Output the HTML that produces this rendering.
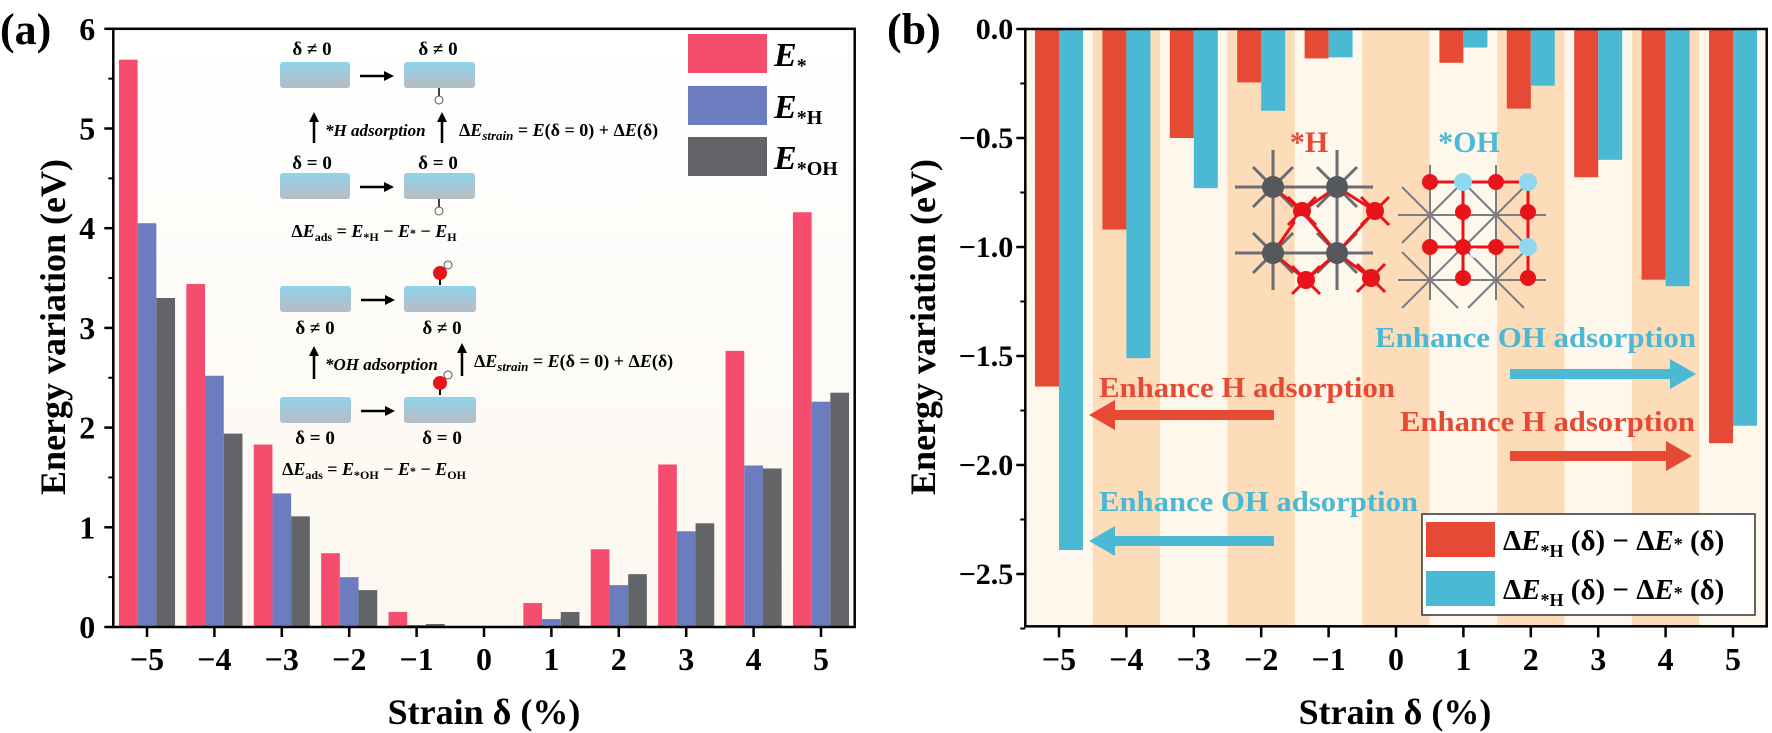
<!DOCTYPE html>
<html><head><meta charset="utf-8"><style>
html,body{margin:0;padding:0;background:#fff;}
svg, svg text{font-family:"Liberation Serif","DejaVu Serif",serif;}
svg{display:block;}
</style></head><body>
<svg width="1772" height="733" viewBox="0 0 1772 733" xmlns="http://www.w3.org/2000/svg" font-family="Liberation Serif, DejaVu Serif, serif">
<defs>
<linearGradient id="bgA" x1="0" y1="0" x2="0" y2="1"><stop offset="0" stop-color="#ffffff"/><stop offset="1" stop-color="#fcf8f0"/></linearGradient>
<linearGradient id="slab" x1="0" y1="0" x2="0" y2="1"><stop offset="0" stop-color="#8fd3ec"/><stop offset="1" stop-color="#b8bcc2"/></linearGradient>
</defs>
<g id="panelA"></g>
<g id="panelB"></g>
</svg>
<script>
// ---------- Panel (a) data ----------
const catsA = [-5,-4,-3,-2,-1,0,1,2,3,4,5];
const eStar = [5.69,3.44,1.83,0.74,0.15,0,0.24,0.78,1.63,2.77,4.16];
const eH    = [4.05,2.52,1.34,0.50,0.02,0,0.08,0.42,0.96,1.62,2.26];
const eOH   = [3.30,1.94,1.11,0.37,0.03,0,0.15,0.53,1.04,1.59,2.35];
const yTicksA = [0,1,2,3,4,5,6];
// ---------- Panel (b) data ----------
const catsB = [-5,-4,-3,-2,-1,0,1,2,3,4,5];
const dH  = [-1.64,-0.92,-0.50,-0.245,-0.135,0,-0.155,-0.365,-0.68,-1.15,-1.90];
const dOH = [-2.39,-1.51,-0.73,-0.375,-0.13,0,-0.085,-0.26,-0.60,-1.18,-1.82];
const yTicksB = [0,-0.5,-1.0,-1.5,-2.0,-2.5];
const yTickLabelsB = ["0.0","\u22120.5","\u22121.0","\u22121.5","\u22122.0","\u22122.5"];

const NS="http://www.w3.org/2000/svg";
function mk(parent,tag,attrs,text){const e=document.createElementNS(NS,tag);for(const k in attrs)e.setAttribute(k,attrs[k]);if(tag==='text')e.setAttribute('font-family','Liberation Serif, DejaVu Serif, serif');if(text!==undefined)e.textContent=text;parent.appendChild(e);return e;}
function lbl(v){return v<0?"\u2212"+Math.abs(v):String(v);}

// ===== Panel A =====
const A=document.getElementById('panelA');
const ax=v=>484+v*67.4, ay=v=>627-v*99.7;
const L=ax(-5.5), R=ax(5.5), T=ay(6), B=ay(0);
let r=mk(A,'rect',{x:L,y:T,width:R-L,height:B-T,fill:'url(#bgA)'});

const bw=18.7;
const seriesA=[[eStar,'#f64c6e','bar-e-star'],[eH,'#6b7dbf','bar-e-h'],[eOH,'#636467','bar-e-oh']];
catsA.forEach((c,i)=>{seriesA.forEach((s,j)=>{const v=s[0][i];if(v<=0)return;
 const b=mk(A,'rect',{x:ax(c)-1.5*bw+j*bw,y:ay(v),width:bw,height:B-ay(v),fill:s[1]});
 
 });});
mk(A,'rect',{x:L,y:T,width:R-L,height:B-T,fill:'none',stroke:'#000','stroke-width':2.5});
yTicksA.forEach(v=>{mk(A,'line',{x1:L-9,x2:L,y1:ay(v),y2:ay(v),stroke:'#000','stroke-width':2.5});
 const t=mk(A,'text',{x:L-18,y:ay(v)+11,'text-anchor':'end','font-size':32,'font-weight':'bold'},String(v));
 
 mk(A,'line',{x1:L-5,x2:L,y1:ay(v+0.5),y2:ay(v+0.5),stroke:'#000','stroke-width':2});});
catsA.forEach(c=>{mk(A,'line',{x1:ax(c),x2:ax(c),y1:B,y2:B+10,stroke:'#000','stroke-width':2.5});
 const t=mk(A,'text',{x:ax(c),y:670,'text-anchor':'middle','font-size':32,'font-weight':'bold'},lbl(c));
 });
let t=mk(A,'text',{x:484,y:724,'text-anchor':'middle','font-size':36,'font-weight':'bold'},'Strain \u03b4 (%)');

t=mk(A,'text',{x:0,y:0,'text-anchor':'middle','font-size':36,'font-weight':'bold',transform:'translate(65,327) rotate(-90)'},'Energy variation (eV)');

t=mk(A,'text',{x:0,y:44,'font-size':44,'font-weight':'bold'},'(a)');

const lg=mk(A,'g',{});
[['#f64c6e',34,''],['#6b7dbf',86,'H'],['#636467',137,'OH']].forEach(d=>{
 mk(lg,'rect',{x:688,y:d[1],width:79,height:39,fill:d[0]});
 const tx=mk(lg,'text',{x:774,y:d[1]+32,'font-size':34,'font-weight':'bold'});
 mk(tx,'tspan',{'font-style':'italic'},'E');
 mk(tx,'tspan',{'font-size':20,dy:6},'*'+d[2]);
 });
const sc=mk(A,'g',{'font-weight':'bold','font-size':19});

function slab(x,y,w){mk(sc,'rect',{x:x,y:y,width:w,height:26,rx:3,fill:'url(#slab)'});}
function harrow(x1,x2,y){mk(sc,'line',{x1:x1,x2:x2-8,y1:y,y2:y,stroke:'#000','stroke-width':2.5});mk(sc,'polygon',{points:`${x2},${y} ${x2-10},${y-5} ${x2-10},${y+5}`,fill:'#000'});}
function varrow(x,y1,y2){mk(sc,'line',{x1:x,x2:x,y1:y1,y2:y2+8,stroke:'#000','stroke-width':2.5});mk(sc,'polygon',{points:`${x},${y2} ${x-5},${y2+10} ${x+5},${y2+10}`,fill:'#000'});}
function hatom(x,y){mk(sc,'circle',{cx:x,cy:y,r:4,fill:'#fff',stroke:'#555','stroke-width':1});}
function oh(x,y){mk(sc,'line',{x1:x,x2:x,y1:y,y2:y+12,stroke:'#000','stroke-width':2});mk(sc,'circle',{cx:x,cy:y,r:7,fill:'#e8141a'});hatom(x+8,y-8);}
mk(sc,'text',{x:312,y:55,'text-anchor':'middle','font-size':19,'font-weight':'bold'},'\u03b4 \u2260 0');mk(sc,'text',{x:438,y:55,'text-anchor':'middle','font-size':19,'font-weight':'bold'},'\u03b4 \u2260 0');
slab(280,62,70);slab(404,62,71);harrow(360,394,76);
mk(sc,'line',{x1:439,x2:439,y1:88,y2:96,stroke:'#000','stroke-width':1.5});hatom(439,100);
varrow(314,143,112);varrow(442,143,112);
mk(sc,'text',{x:325,y:136,'font-style':'italic','font-size':17,'font-weight':'bold'},'*H adsorption');
let te=mk(sc,'text',{x:459,y:136,'font-size':18,'font-weight':'bold'});mk(te,'tspan',{},'\u0394');mk(te,'tspan',{'font-style':'italic'},'E');mk(te,'tspan',{'font-style':'italic','font-size':13,dy:4},'strain');mk(te,'tspan',{dy:-4},' = ');mk(te,'tspan',{'font-style':'italic'},'E');mk(te,'tspan',{},'(\u03b4 = 0) + \u0394');mk(te,'tspan',{'font-style':'italic'},'E');mk(te,'tspan',{},'(\u03b4)');
mk(sc,'text',{x:312,y:169,'text-anchor':'middle','font-size':19,'font-weight':'bold'},'\u03b4 = 0');mk(sc,'text',{x:438,y:169,'text-anchor':'middle','font-size':19,'font-weight':'bold'},'\u03b4 = 0');
slab(280,173,70);slab(404,173,71);harrow(360,394,187);
mk(sc,'line',{x1:439,x2:439,y1:199,y2:207,stroke:'#000','stroke-width':1.5});hatom(439,211);
te=mk(sc,'text',{x:374,y:237,'text-anchor':'middle','font-size':18,'font-weight':'bold'});mk(te,'tspan',{},'\u0394');mk(te,'tspan',{'font-style':'italic'},'E');mk(te,'tspan',{'font-size':12,dy:4},'ads');mk(te,'tspan',{dy:-4},' = ');mk(te,'tspan',{'font-style':'italic'},'E');mk(te,'tspan',{'font-size':12,dy:4},'*H');mk(te,'tspan',{dy:-4},' \u2212 ');mk(te,'tspan',{'font-style':'italic'},'E');mk(te,'tspan',{'font-size':12},'*');mk(te,'tspan',{},' \u2212 ');mk(te,'tspan',{'font-style':'italic'},'E');mk(te,'tspan',{'font-size':12,dy:4},'H');
slab(280,286,71);slab(404,286,72);harrow(361,395,300);oh(440,273);
mk(sc,'text',{x:315,y:334,'text-anchor':'middle','font-size':19,'font-weight':'bold'},'\u03b4 \u2260 0');mk(sc,'text',{x:442,y:334,'text-anchor':'middle','font-size':19,'font-weight':'bold'},'\u03b4 \u2260 0');
varrow(314,379,346);varrow(462,376,343);
mk(sc,'text',{x:325,y:370,'font-style':'italic','font-size':17,'font-weight':'bold'},'*OH adsorption');
te=mk(sc,'text',{x:474,y:367,'font-size':18,'font-weight':'bold'});mk(te,'tspan',{},'\u0394');mk(te,'tspan',{'font-style':'italic'},'E');mk(te,'tspan',{'font-style':'italic','font-size':13,dy:4},'strain');mk(te,'tspan',{dy:-4},' = ');mk(te,'tspan',{'font-style':'italic'},'E');mk(te,'tspan',{},'(\u03b4 = 0) + \u0394');mk(te,'tspan',{'font-style':'italic'},'E');mk(te,'tspan',{},'(\u03b4)');
slab(280,397,71);slab(404,397,72);harrow(361,395,411);oh(440,383);
mk(sc,'text',{x:315,y:444,'text-anchor':'middle','font-size':19,'font-weight':'bold'},'\u03b4 = 0');mk(sc,'text',{x:442,y:444,'text-anchor':'middle','font-size':19,'font-weight':'bold'},'\u03b4 = 0');
te=mk(sc,'text',{x:374,y:475,'text-anchor':'middle','font-size':18,'font-weight':'bold'});mk(te,'tspan',{},'\u0394');mk(te,'tspan',{'font-style':'italic'},'E');mk(te,'tspan',{'font-size':12,dy:4},'ads');mk(te,'tspan',{dy:-4},' = ');mk(te,'tspan',{'font-style':'italic'},'E');mk(te,'tspan',{'font-size':12,dy:4},'*OH');mk(te,'tspan',{dy:-4},' \u2212 ');mk(te,'tspan',{'font-style':'italic'},'E');mk(te,'tspan',{'font-size':12},'*');mk(te,'tspan',{},' \u2212 ');mk(te,'tspan',{'font-style':'italic'},'E');mk(te,'tspan',{'font-size':12,dy:4},'OH');

// ===== Panel B =====
const P=document.getElementById('panelB');
const bx=v=>1059+(v+5)*67.4, by=v=>29-v*218;
const L2=bx(-5.5), R2=bx(5.5), T2=by(0), B2=by(-2.74);
catsB.forEach((c,i)=>{const s=mk(P,'rect',{x:bx(c-0.5),y:T2,width:67.4,height:B2-T2,fill:(c%2===0)?'#fddcba':'#fdf7ec'});
 });
const bw2=24;
catsB.forEach((c,i)=>{
 if(dH[i]<0){const b=mk(P,'rect',{x:bx(c)-bw2,y:T2,width:bw2,height:by(dH[i])-T2,fill:'#e64a35'});
  
  }
 if(dOH[i]<0){const b=mk(P,'rect',{x:bx(c),y:T2,width:bw2,height:by(dOH[i])-T2,fill:'#4bb8d4'});
  
  }});
mk(P,'rect',{x:L2,y:T2,width:R2-L2,height:B2-T2,fill:'none',stroke:'#000','stroke-width':2.5});
yTicksB.forEach((v,i)=>{mk(P,'line',{x1:L2-9,x2:L2,y1:by(v),y2:by(v),stroke:'#000','stroke-width':2.5});
 mk(P,'line',{x1:L2-5,x2:L2,y1:by(v-0.25),y2:by(v-0.25),stroke:'#000','stroke-width':2});
 const t=mk(P,'text',{x:L2-12,y:by(v)+10,'text-anchor':'end','font-size':30,'font-weight':'bold'},yTickLabelsB[i]);
 });
catsB.forEach(c=>{mk(P,'line',{x1:bx(c),x2:bx(c),y1:B2,y2:B2+11,stroke:'#000','stroke-width':2.5});
 const t=mk(P,'text',{x:bx(c),y:670,'text-anchor':'middle','font-size':32,'font-weight':'bold'},lbl(c));
 });
t=mk(P,'text',{x:1395,y:724,'text-anchor':'middle','font-size':36,'font-weight':'bold'},'Strain \u03b4 (%)');

t=mk(P,'text',{x:0,y:0,'text-anchor':'middle','font-size':36,'font-weight':'bold',transform:'translate(935,327) rotate(-90)'},'Energy variation (eV)');

t=mk(P,'text',{x:887,y:44,'font-size':44,'font-weight':'bold'},'(b)');

const cr=mk(P,'g',{});
mk(cr,'text',{x:1309,y:152,'text-anchor':'middle','font-size':30,'font-weight':'bold',fill:'#e64a35'},'*H');
mk(cr,'text',{x:1469,y:152,'text-anchor':'middle','font-size':30,'font-weight':'bold',fill:'#4bb8d4'},'*OH');
const gA=[[1273,187],[1337,187],[1273,253],[1337,253]], rA=[[1302,211],[1375,211],[1306,280],[1371,278]];
[[1235,187,1373,187],[1235,253,1373,253],[1273,150,1273,290],[1337,150,1337,290]].forEach(l=>mk(cr,'line',{x1:l[0],y1:l[1],x2:l[2],y2:l[3],stroke:'#6a6d72','stroke-width':3}));
gA.forEach(g=>{[[-1,-1],[1,-1],[-1,1],[1,1]].forEach(d=>mk(cr,'line',{x1:g[0],y1:g[1],x2:g[0]+d[0]*20,y2:g[1]+d[1]*20,stroke:'#6a6d72','stroke-width':3}));});
[[1273,187,1302,211],[1337,187,1302,211],[1302,211,1337,253],[1302,211,1273,253],[1337,187,1375,211],[1273,253,1306,280],[1337,253,1306,280],[1337,253,1371,278],[1375,211,1337,253]].forEach(l=>mk(cr,'line',{x1:l[0],y1:l[1],x2:l[2],y2:l[3],stroke:'#e8141a','stroke-width':3}));
rA.forEach(p=>{mk(cr,'line',{x1:p[0]-14,y1:p[1]-14,x2:p[0]+14,y2:p[1]+14,stroke:'#e8141a','stroke-width':3});mk(cr,'line',{x1:p[0]+14,y1:p[1]-14,x2:p[0]-14,y2:p[1]+14,stroke:'#e8141a','stroke-width':3});});
gA.forEach(g=>mk(cr,'circle',{cx:g[0],cy:g[1],r:11,fill:'#55585c'}));
rA.forEach(p=>mk(cr,'circle',{cx:p[0],cy:p[1],r:9,fill:'#e8141a'}));
mk(cr,'circle',{cx:1301,cy:222,r:6,fill:'#f4f4f4'});
const stars=[[1430,215],[1496,215],[1430,280],[1496,280]];
[[1398,215,1546,215],[1398,280,1546,280],[1430,165,1430,300],[1496,165,1496,300]].forEach(l=>mk(cr,'line',{x1:l[0],y1:l[1],x2:l[2],y2:l[3],stroke:'#7a7d82','stroke-width':2}));
stars.forEach(g=>{[[-1,-1],[1,-1],[-1,1],[1,1]].forEach(d=>mk(cr,'line',{x1:g[0],y1:g[1],x2:g[0]+d[0]*28,y2:g[1]+d[1]*28,stroke:'#7a7d82','stroke-width':2}));});
[[1430,182,1528,182],[1430,247,1528,247],[1463,182,1463,278],[1528,182,1528,278]].forEach(l=>mk(cr,'line',{x1:l[0],y1:l[1],x2:l[2],y2:l[3],stroke:'#e8141a','stroke-width':3}));
[[1430,182],[1496,182],[1463,212],[1528,212],[1430,247],[1463,247],[1496,247],[1463,278],[1528,278]].forEach(p=>mk(cr,'circle',{cx:p[0],cy:p[1],r:8,fill:'#e8141a'}));
[[1463,182],[1528,182],[1528,247]].forEach(p=>mk(cr,'circle',{cx:p[0],cy:p[1],r:9,fill:'#8fd8f0'}));
mk(cr,'circle',{cx:1475,cy:253,r:5,fill:'#f4f4f4'});
function ann(txt,x,y,w,col,name){const t=mk(P,'text',{x:x,y:y,'font-size':29,'font-weight':'bold',fill:col,textLength:w,lengthAdjust:'spacingAndGlyphs'},txt);
 }
function arr(x1,x2,y,col,name){const dir=x2>x1?1:-1;const hx=x2-dir*26;
 const g=mk(P,'g',{});
 mk(g,'rect',{x:Math.min(x1,hx),y:y-5,width:Math.abs(hx-x1),height:10,fill:col});
 mk(g,'polygon',{points:`${x2},${y} ${hx},${y-15} ${hx},${y+15}`,fill:col});}
ann('Enhance OH adsorption',1375,347,321,'#4bb8d4','annotation-oh-right');
arr(1510,1696,374,'#4bb8d4','arrow-oh-right');
ann('Enhance H adsorption',1099,397,296,'#e64a35','annotation-h-left');
arr(1274,1089,415,'#e64a35','arrow-h-left');
ann('Enhance H adsorption',1400,431,295,'#e64a35','annotation-h-right');
arr(1510,1692,456,'#e64a35','arrow-h-right');
ann('Enhance OH adsorption',1099,511,319,'#4bb8d4','annotation-oh-left');
arr(1274,1089,541,'#4bb8d4','arrow-oh-left');
const lb=mk(P,'g',{});
mk(lb,'rect',{x:1422,y:514,width:333,height:101,fill:'#fff',stroke:'#333','stroke-width':1.5});
[['#e64a35',522],['#4bb8d4',571]].forEach(d=>{
 mk(lb,'rect',{x:1426,y:d[1],width:69,height:35,fill:d[0]});
 const tx=mk(lb,'text',{x:1503,y:d[1]+28,'font-size':29,'font-weight':'bold'});
 mk(tx,'tspan',{},'\u0394');mk(tx,'tspan',{'font-style':'italic'},'E');mk(tx,'tspan',{'font-size':18,dy:7},'*H');mk(tx,'tspan',{dy:-7},' (\u03b4) \u2212 \u0394');mk(tx,'tspan',{'font-style':'italic'},'E');mk(tx,'tspan',{'font-size':18},'*');mk(tx,'tspan',{},' (\u03b4)');
 });
</script>
</body></html>
